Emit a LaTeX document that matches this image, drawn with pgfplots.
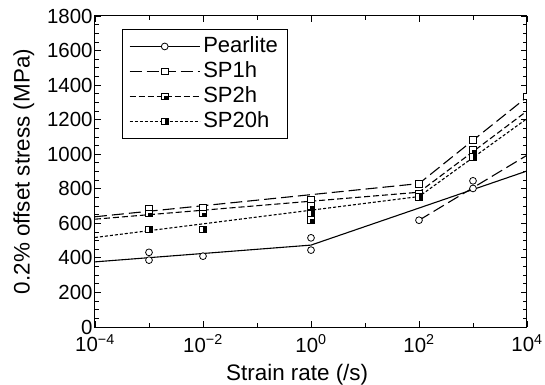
\documentclass[border=0pt]{standalone}
\usepackage{fontspec}
\setmainfont{Liberation Sans}
\usepackage{graphicx}
\usepackage{pgfplots}
\pgfplotsset{compat=1.18}
\pgfdeclareplotmark{sqR}{%
 \pgfsetfillcolor{white}%
 \pgfpathrectangle{\pgfqpoint{-\pgfplotmarksize}{-\pgfplotmarksize}}{\pgfqpoint{2\pgfplotmarksize}{2\pgfplotmarksize}}\pgfusepathqfill
 \pgfsetfillcolor{black}%
 \pgfpathrectangle{\pgfqpoint{0pt}{-\pgfplotmarksize}}{\pgfqpoint{\pgfplotmarksize}{2\pgfplotmarksize}}\pgfusepathqfill
 \pgfpathrectangle{\pgfqpoint{-\pgfplotmarksize}{-\pgfplotmarksize}}{\pgfqpoint{2\pgfplotmarksize}{2\pgfplotmarksize}}\pgfusepathqstroke}
\pgfdeclareplotmark{sqLR}{%
 \pgfsetfillcolor{white}%
 \pgfpathrectangle{\pgfqpoint{-\pgfplotmarksize}{-\pgfplotmarksize}}{\pgfqpoint{2\pgfplotmarksize}{2\pgfplotmarksize}}\pgfusepathqfill
 \pgfsetfillcolor{black}%
 \pgfpathrectangle{\pgfqpoint{-0.3\pgfplotmarksize}{-\pgfplotmarksize}}{\pgfqpoint{1.3\pgfplotmarksize}{1.2\pgfplotmarksize}}\pgfusepathqfill
 \pgfpathrectangle{\pgfqpoint{-\pgfplotmarksize}{-\pgfplotmarksize}}{\pgfqpoint{2\pgfplotmarksize}{2\pgfplotmarksize}}\pgfusepathqstroke}
\pgfplotsset{
 pear/.style={black, line width=1.1bp},
 sp1/.style={black, line width=1.1bp, dash pattern=on 12bp off 5bp},
 sp2/.style={black, line width=1.1bp, dash pattern=on 6bp off 3bp},
 sp20/.style={black, line width=1.1bp, dash pattern=on 3bp off 2bp},
 mO/.style={mark=*, mark size=3.4bp, mark options={solid, fill=white, line width=0.8bp}},
 mS/.style={mark=square*, mark size=3.4bp, mark options={solid, fill=white, line width=0.8bp}},
 mS2/.style={mark=sqLR, mark size=3.4bp, mark options={solid, line width=0.8bp}},
 mS20/.style={mark=sqR, mark size=3.4bp, mark options={solid, line width=0.8bp}},
}
\begin{document}
\begin{tikzpicture}
\begin{axis}[
 name=ax,
 scale only axis, width=432bp, height=311bp,
 xmode=log, xmin=1e-4, xmax=1e4,
 ymin=0, ymax=1800,
 xtick={1e-4,1e-2,1,1e2,1e4},
 xticklabels={10\textsuperscript{−4},10\textsuperscript{−2},10\textsuperscript{0},10\textsuperscript{2},10\textsuperscript{4}},
 minor xtick={1e-3,1e-1,1e1,1e3},
 ytick={0,200,...,1800},
 minor ytick={50,100,...,1750},
 /pgf/number format/assume math mode=true,
 /pgf/number format/1000 sep={},
 tick align=inside,
 major tick length=6bp, minor tick length=4bp,
 every tick/.style={black, line width=0.8bp},
 axis line style={line width=1bp},
 tick label style={font=\fontsize{20.5}{24}\selectfont},
 xticklabel style={yshift=-4bp},
 yticklabel style={xshift=1bp},
 label style={font=\fontsize{22.5}{26}\selectfont},
 xlabel={Strain rate (/s)},
 ylabel={0.2\% offset stress (MPa)},
 xlabel style={at={(axis description cs:0.468,-0.152)}, anchor=center},
 ylabel style={at={(axis description cs:-0.165,0.5)}, anchor=center},
 clip marker paths=true,
 legend style={at={(axis description cs:0.062,0.958)}, anchor=north west,
   draw=black, line width=0.8bp, inner xsep=7bp, inner ysep=6bp, row sep=3bp,
   nodes={inner xsep=3bp, inner ysep=1bp, text height=16bp, text depth=4bp}},
 legend cell align=left,
 legend image code/.code={\draw[mark repeat=2,mark phase=2,#1] plot coordinates {(0bp,0bp) (35bp,0bp) (70bp,0bp)};},
 /tikz/every even column/.append style={column sep=4bp},
]
\addlegendimage{pear, mO}
\addlegendentry{\resizebox{74.6bp}{!}{Pearlite}}
\addlegendimage{sp1, mS}
\addlegendentry{\resizebox{53.8bp}{!}{SP1h}}
\addlegendimage{sp2, mS2}
\addlegendentry{\resizebox{53.8bp}{!}{SP2h}}
\addlegendimage{sp20, mS20}
\addlegendentry{\resizebox{66bp}{!}{SP20h}}

% fitted lines
\addplot[pear, forget plot] coordinates {(1e-4,377) (1,474) (1e4,903)};
\addplot[sp1, forget plot] coordinates {(1e2,618) (1e4,994)};
\addplot[sp1, forget plot] coordinates {(1e-4,638) (1e2,830) (1e4,1331)};
\addplot[sp2, forget plot] coordinates {(1e-4,624) (1e2,780) (1e4,1250)};
\addplot[sp20, forget plot] coordinates {(1e-4,518) (1e2,755) (1e4,1206)};

% data points
\addplot[only marks, black, mO, forget plot] coordinates {
 (1e-3,432) (1e-3,387) (1e-2,410) (1,516) (1,445) (1e2,618) (1e3,846) (1e3,802)};
\addplot[only marks, black, mS, forget plot] coordinates {
 (1e-3,686) (1e-2,692) (1,738) (1e2,830) (1e3,1085) (1e4,1335)};
\addplot[only marks, black, mS2, forget plot] coordinates {
 (1e-3,657) (1e-2,657) (1,699) (1e2,773) (1e3,1023) (1,622)};
\addplot[only marks, black, mS20, forget plot] coordinates {
 (1e-3,565) (1e-2,565) (1,657) (1e2,753) (1e3,984)};
\end{axis}
\pgfresetboundingbox
\path[use as bounding box] ([shift={(-95bp,-58bp)}]ax.south west) rectangle ([shift={(18bp,16bp)}]ax.north east);
\end{tikzpicture}
\end{document}
